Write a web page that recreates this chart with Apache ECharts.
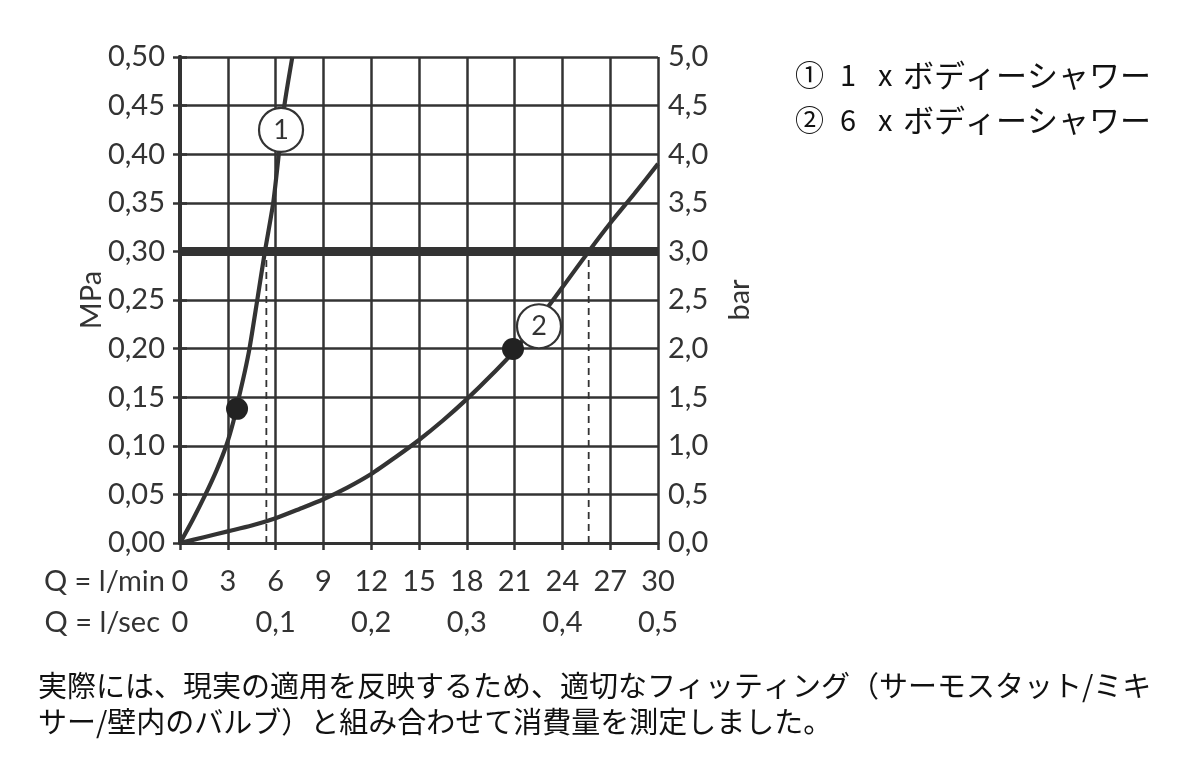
<!DOCTYPE html>
<html><head><meta charset="utf-8">
<script src="https://cdn.jsdelivr.net/npm/echarts@6/dist/echarts.min.js"></script>
<style>html,body{margin:0;padding:0;background:#fff}#c{width:1200px;height:765px}</style>
</head><body><div id="c"></div>
<script>
// Curve 1: 1 x body shower (flow l/min, pressure MPa)
const curve1Q = [0, 0.8, 1.6, 2.3, 2.9, 3.35, 3.7, 4.05, 4.36, 4.85, 5.33, 5.85, 6.2, 6.55, 7.05];
const curve1P = [0, 0.024, 0.05, 0.075, 0.10, 0.125, 0.15, 0.175, 0.20, 0.25, 0.30, 0.35, 0.40, 0.45, 0.50];
// Curve 2: 6 x body shower
const curve2Q = [0, 1.5, 3, 4.5, 6, 7.5, 9, 10.5, 12, 13.5, 15, 16.5, 18, 19.5, 21, 22.5, 24, 25.65, 27, 28.5, 30];
const curve2P = [0, 0.006, 0.012, 0.018, 0.0255, 0.035, 0.045, 0.057, 0.071, 0.088, 0.106, 0.126, 0.148, 0.172, 0.198, 0.23, 0.263, 0.30, 0.329, 0.359, 0.39];
// Marker dots and label circles
const dotsQ = [3.58, 20.9];
const dotsP = [0.138, 0.1996];
const badgeQ = [6.34, 22.53];
const badgeP = [0.425, 0.223];
const badgeText = ['1', '2'];
// Reference pressure line and dashed drops
const refPressure = 0.30;
const dropQ = [5.42, 25.65];
const dropTop = 0.295;
// Axes
const flowTicks = [0, 3, 6, 9, 12, 15, 18, 21, 24, 27, 30];
const secTicks = [0, 0.1, 0.2, 0.3, 0.4, 0.5];
const legendItems = [['①', '1', 'x', 'ボディーシャワー'], ['②', '6', 'x', 'ボディーシャワー']];
const caption = ['実際には、現実の適用を反映するため、適切なフィッティング（サーモスタット/ミキ', 'サー/壁内のバルブ）と組み合わせて消費量を測定しました。'];

const INK = '#333';
const LAT = 'Lato, "Open Sans", sans-serif';
const JP = '"Noto Sans CJK JP", sans-serif';
const FS = 29;
const comma = (v, d) => v.toFixed(d).replace('.', ',');

const series = [];
series.push({type: 'line', data: curve1Q.map((q, i) => [q, curve1P[i]]), smooth: 0.25, symbol: 'none',
  lineStyle: {color: INK, width: 4.2}, z: 3, clip: true});
series.push({type: 'line', data: curve2Q.map((q, i) => [q, curve2P[i]]), smooth: 0.25, symbol: 'none',
  lineStyle: {color: INK, width: 4.2}, z: 3});
series.push({type: 'line', data: [[0, refPressure], [30, refPressure]], symbol: 'none',
  lineStyle: {color: INK, width: 9}, z: 4});
dropQ.forEach(q => series.push({type: 'line', data: [[q, 0], [q, dropTop]], symbol: 'none',
  lineStyle: {color: INK, width: 1.8, type: [7, 5]}, z: 2}));
series.push({type: 'scatter', data: dotsQ.map((q, i) => [q, dotsP[i]]), symbol: 'circle', symbolSize: 22,
  itemStyle: {color: '#222', opacity: 1}, z: 5});
series.push({type: 'scatter', data: badgeQ.map((q, i) => ({value: [q, badgeP[i]], label: {formatter: badgeText[i]}})),
  symbol: 'circle', symbolSize: 44, itemStyle: {color: '#fff', borderColor: INK, borderWidth: 2.2, opacity: 1}, z: 6,
  label: {show: true, position: 'inside', color: INK, fontSize: 27, fontFamily: LAT}});

const graphic = [];
graphic.push({type: 'text', x: 165, y: 582, style: {text: 'Q = l/min', fontSize: FS, fontFamily: LAT, fill: INK, align: 'right', verticalAlign: 'middle'}});
graphic.push({type: 'text', x: 160, y: 623, style: {text: 'Q = l/sec', fontSize: FS, fontFamily: LAT, fill: INK, align: 'right', verticalAlign: 'middle'}});
graphic.push({type: 'text', x: 92, y: 300, rotation: Math.PI / 2, style: {text: 'MPa', fontSize: FS, fontFamily: LAT, fill: INK, align: 'center', verticalAlign: 'middle'}});
graphic.push({type: 'text', x: 740, y: 300, rotation: Math.PI / 2, style: {text: 'bar', fontSize: FS, fontFamily: LAT, fill: INK, align: 'center', verticalAlign: 'middle'}});
const legX = [795, 840, 878, 903];
const legFS = [29, 29, 29, 31];
legendItems.forEach((row, r) => {
  row.forEach((t, k) => graphic.push({type: 'text', x: legX[k], y: 75 + r * 45,
    style: {text: t, fontSize: legFS[k], fontFamily: JP, fill: '#111', align: 'left', verticalAlign: 'middle'}}));
});
caption.forEach((t, r) => graphic.push({type: 'text', x: 38, y: 686 + r * 36,
  style: {text: t, fontSize: 29, fontFamily: JP, fill: '#111', align: 'left', verticalAlign: 'middle'}}));

const chart = echarts.init(document.getElementById('c'));
chart.setOption({
  animation: false,
  backgroundColor: '#fff',
  grid: {left: 180, right: 542, top: 57, bottom: 222, containLabel: false},
  xAxis: [
    {type: 'value', min: 0, max: 30, interval: 3, position: 'bottom',
      axisLine: {show: true, onZero: false, lineStyle: {color: INK, width: 3}},
      axisTick: {show: true, length: 7, lineStyle: {color: INK, width: 2.5}},
      axisLabel: {fontSize: FS, margin: 24, color: INK, fontFamily: LAT,
        formatter: v => flowTicks.includes(v) ? String(v) : ''},
      splitLine: {show: true, lineStyle: {color: INK, width: 2.5}}},
    {type: 'value', min: 0, max: 0.5, interval: 0.1, position: 'bottom', offset: 41,
      axisLine: {show: false}, axisTick: {show: false}, splitLine: {show: false},
      axisLabel: {fontSize: FS, margin: 24, color: INK, fontFamily: LAT,
        formatter: v => { const m = secTicks.find(s => Math.abs(s - v) < 1e-6); return m === undefined ? '' : (m === 0 ? '0' : comma(m, 1)); }}}
  ],
  yAxis: [
    {type: 'value', min: 0, max: 0.5, interval: 0.05, position: 'left',
      axisLine: {show: true, lineStyle: {color: INK, width: 4}},
      axisTick: {show: true, length: 7, lineStyle: {color: INK, width: 2.5}},
      axisLabel: {fontSize: FS, margin: 15, color: INK, fontFamily: LAT, formatter: v => comma(v, 2)},
      splitLine: {show: true, lineStyle: {color: INK, width: 2.5}}},
    {type: 'value', min: 0, max: 5, interval: 0.5, position: 'right',
      axisLine: {show: true, lineStyle: {color: INK, width: 4}},
      axisTick: {show: true, length: 7, lineStyle: {color: INK, width: 2.5}},
      axisLabel: {fontSize: FS, margin: 10, color: INK, fontFamily: LAT, formatter: v => comma(v, 1)},
      splitLine: {show: false}}
  ],
  series: series,
  graphic: graphic
});
</script></body></html>
